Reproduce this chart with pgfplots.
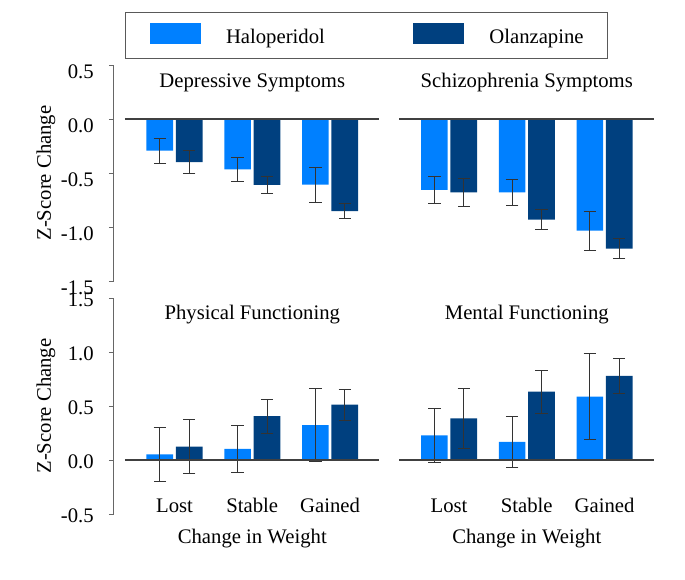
\documentclass[border=0pt]{standalone}
\usepackage{fontspec}
\setmainfont{Liberation Serif}
\usepackage{pgfplots}
\pgfplotsset{compat=1.18}
\definecolor{halo}{HTML}{0080FF}
\definecolor{olan}{HTML}{00407F}
\newcommand\ff{\fontsize{20.7bp}{24bp}\selectfont}
\pgfplotsset{
  legimg/.style={legend image code/.code={\fill[##1] (0bp,0bp) rectangle (51bp,21bp);}},
  panel/.style={
    scale only axis, width=276.8bp, height=216bp,
    anchor=south west,
    xmin=-0.78, xmax=2.78,
    ybar=2.7bp, bar width=26.7bp,
    axis x line*=bottom, x axis line style={draw=none},
    xtick style={draw=none},
    tick align=outside, major tick length=5bp,
    ytick style={black!60, line width=1bp},
    error bars/y dir=both, error bars/y explicit,
    error bars/error mark options={rotate=90, black!80, mark size=6.2bp, line width=0.9bp},
    error bars/error bar style={black!80, line width=0.9bp},
  },
  leftpanel/.style={
    axis y line*=left, y axis line style={-, black!60, line width=1bp},
    yticklabel style={anchor=base east, inner sep=0pt, xshift=-15bp},
    ylabel={Z-Score Change},
    ylabel style={at={([xshift=-67.9bp]axis description cs:0,0.5)}, rotate=0, anchor=center},
  },
  rightpanel/.style={hide y axis},
  toppanel/.style={ymin=-1.5, ymax=0.5, xtick=\empty,
    ytick={-1.5,-1,-0.5,0,0.5}, yticklabels={-1.5,-1.0,-0.5,0.0,0.5},
    yticklabel style={yshift=-13bp}},
  botpanel/.style={ymin=-0.5, ymax=1.5, xtick={0,1,2}, xticklabels={Lost,Stable,Gained},
    xticklabel style={anchor=base, yshift=6.5bp},
    xlabel={Change in Weight},
    xlabel style={at={(axis description cs:0.5,0)}, anchor=base, yshift=-29bp},
    ytick={-0.5,0,0.5,1,1.5}, yticklabels={-0.5,0.0,0.5,1.0,1.5},
    yticklabel style={yshift=-8.4bp}},
}
\begin{document}
\begin{tikzpicture}[font=\ff]
\useasboundingbox (0bp,0bp) rectangle (685bp,-580bp);
% Top left: Depressive Symptoms
\begin{axis}[panel, leftpanel, toppanel, at={(113.9bp,-281bp)},
  legend columns=2,
  legend style={at={(0.0401,1.244)}, anchor=north west, draw=black!65, line width=1bp,
    fill=white, inner xsep=24bp, inner ysep=10bp,
    column sep=25.5bp, /tikz/every even column/.append style={column sep=88bp},
    nodes={inner sep=0pt, text depth=, font=\ff}, cells={anchor=base west}},
  ]
\addplot[fill=halo, draw=none, legimg] coordinates {(0,-0.293) +- (0,0.115) (1,-0.467) +- (0,0.108) (2,-0.608) +- (0,0.162)};
\addlegendentry{Haloperidol}
\addplot[fill=olan, draw=none, legimg] coordinates {(0,-0.40) +- (0,0.105) (1,-0.611) +- (0,0.08) (2,-0.852) +- (0,0.07)};
\addlegendentry{Olanzapine}
\draw[black!75, line width=1.1bp] (axis cs:-0.64,0) -- (axis cs:2.635,0);
\node[anchor=base] at (axis cs:1,0.293) {Depressive Symptoms};
\end{axis}
% Top right: Schizophrenia Symptoms
\begin{axis}[panel, rightpanel, toppanel, at={(388.4bp,-281bp)}]
\addplot[fill=halo, draw=none] coordinates {(0,-0.657) +- (0,0.125) (1,-0.679) +- (0,0.123) (2,-1.034) +- (0,0.18)};
\addplot[fill=olan, draw=none] coordinates {(0,-0.679) +- (0,0.13) (1,-0.932) +- (0,0.09) (2,-1.20) +- (0,0.09)};
\draw[black!75, line width=1.1bp] (axis cs:-0.64,0) -- (axis cs:2.635,0);
\node[anchor=base] at (axis cs:1,0.293) {Schizophrenia Symptoms};
\end{axis}
% Bottom left: Physical Functioning
\begin{axis}[panel, leftpanel, botpanel, at={(113.9bp,-514bp)}]
\addplot[fill=halo, draw=none] coordinates {(0,0.053) +- (0,0.247) (1,0.102) +- (0,0.22) (2,0.324) +- (0,0.34)};
\addplot[fill=olan, draw=none] coordinates {(0,0.123) +- (0,0.25) (1,0.407) +- (0,0.157) (2,0.512) +- (0,0.145)};
\draw[black!75, line width=1.1bp] (axis cs:-0.64,0) -- (axis cs:2.635,0);
\node[anchor=base] at (axis cs:1,1.302) {Physical Functioning};
\end{axis}
% Bottom right: Mental Functioning
\begin{axis}[panel, rightpanel, botpanel, at={(388.4bp,-514bp)}]
\addplot[fill=halo, draw=none] coordinates {(0,0.228) +- (0,0.25) (1,0.167) +- (0,0.24) (2,0.586) +- (0,0.40)};
\addplot[fill=olan, draw=none] coordinates {(0,0.386) +- (0,0.275) (1,0.633) +- (0,0.20) (2,0.78) +- (0,0.164)};
\draw[black!75, line width=1.1bp] (axis cs:-0.64,0) -- (axis cs:2.635,0);
\node[anchor=base] at (axis cs:1,1.302) {Mental Functioning};
\end{axis}
\end{tikzpicture}
\end{document}
